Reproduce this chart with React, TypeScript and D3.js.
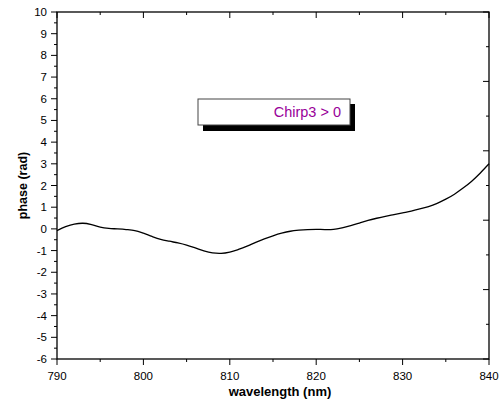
import React from "react";
import * as d3 from "d3";

const wavelengths = [790,791,792,793,794,795,796,797,798,799,800,801,802,803,804,805,806,807,808,809,810,811,812,813,814,815,816,817,818,819,820,821,822,823,824,825,826,827,828,829,830,831,832,833,834,835,836,837,838,839,840];
const phase = [-0.08,0.1,0.22,0.26,0.2,0.08,0.02,0.0,-0.03,-0.08,-0.2,-0.35,-0.48,-0.57,-0.65,-0.75,-0.88,-1.02,-1.11,-1.13,-1.07,-0.95,-0.8,-0.62,-0.46,-0.32,-0.2,-0.11,-0.06,-0.03,-0.02,-0.03,-0.02,0.05,0.15,0.27,0.39,0.49,0.58,0.66,0.74,0.82,0.92,1.03,1.18,1.37,1.6,1.88,2.2,2.58,3.0];
const xTickValues = [790, 800, 810, 820, 830, 840];
const yTickValues = [-6,-5,-4,-3,-2,-1,0,1,2,3,4,5,6,7,8,9,10];
const legendLabel = "Chirp3 > 0";

export default function App() {
  const W = 500, H = 410;
  const L = 57, R = 489, T = 12, B = 359;
  const x = d3.scaleLinear().domain([790, 840]).range([L, R]);
  const y = d3.scaleLinear().domain([-6, 10]).range([B, T]);
  const yr = d3.scaleLinear().domain([0, 10]).range([B, T]);
  const font = "Arial, 'Liberation Sans', sans-serif";
  const line = d3.line<number>()
    .x((_, i) => x(wavelengths[i]))
    .y((d) => y(d))
    .curve(d3.curveCatmullRom.alpha(0.5));
  const xMinor = d3.range(790, 840.01, 5);
  const yMinor = d3.range(-6, 10.01, 0.5);
  const rTicks = d3.range(0, 10.01, 1);
  return (
    <svg width={W} height={H} style={{ position: "absolute", left: 0, top: 0 }} fontFamily={font}>
      <rect x={0} y={0} width={W} height={H} fill="#fff" />
      {xMinor.map((v) => {
        const major = v % 10 === 0;
        return <line key={"b" + v} x1={x(v)} x2={x(v)} y1={B} y2={B + (major ? 6 : 3)} stroke="#000" strokeWidth={1} />;
      })}
      {xMinor.map((v) => {
        const major = v % 10 === 0;
        return <line key={"t" + v} x1={x(v)} x2={x(v)} y1={T} y2={T + (major ? 6 : 3)} stroke="#000" strokeWidth={1} />;
      })}
      {yMinor.map((v) => {
        const major = Math.abs(v - Math.round(v)) < 1e-6;
        return <line key={"l" + v} x1={L - (major ? 6 : 3)} x2={L} y1={y(v)} y2={y(v)} stroke="#000" strokeWidth={1} />;
      })}
      {rTicks.map((v) => {
        const major = v % 2 === 0;
        return <line key={"r" + v} x1={R - (major ? 6 : 3)} x2={R} y1={yr(v)} y2={yr(v)} stroke="#000" strokeWidth={1} />;
      })}
      <rect x={L} y={T} width={R - L} height={B - T} fill="none" stroke="#000" strokeWidth={1.3} />
      {xTickValues.map((v) => (
        <text key={"xl" + v} x={x(v)} y={B + 21} fontSize={11.5} textAnchor="middle" fill="#000">{v}</text>
      ))}
      {yTickValues.map((v) => (
        <text key={"yl" + v} x={L - 10} y={y(v) + 4} fontSize={11.5} textAnchor="end" fill="#000">{v}</text>
      ))}
      <text x={280} y={396} fontSize={13} fontWeight="bold" textAnchor="middle" fill="#000">wavelength (nm)</text>
      <text transform={`translate(27,${(T + B) / 2}) rotate(-90)`} fontSize={12.5} fontWeight="bold" textAnchor="middle" fill="#000">phase (rad)</text>
      <path d={line(phase) || ""} fill="none" stroke="#000" strokeWidth={1.3} />
      <rect x={203} y={104} width={152} height={27} fill="#000" />
      <rect x={198} y={99} width={152} height={26} fill="#fff" stroke="#444" strokeWidth={1} />
      <text x={341} y={117} fontSize={14.5} textAnchor="end" fill="#990099">{legendLabel}</text>
    </svg>
  );
}
